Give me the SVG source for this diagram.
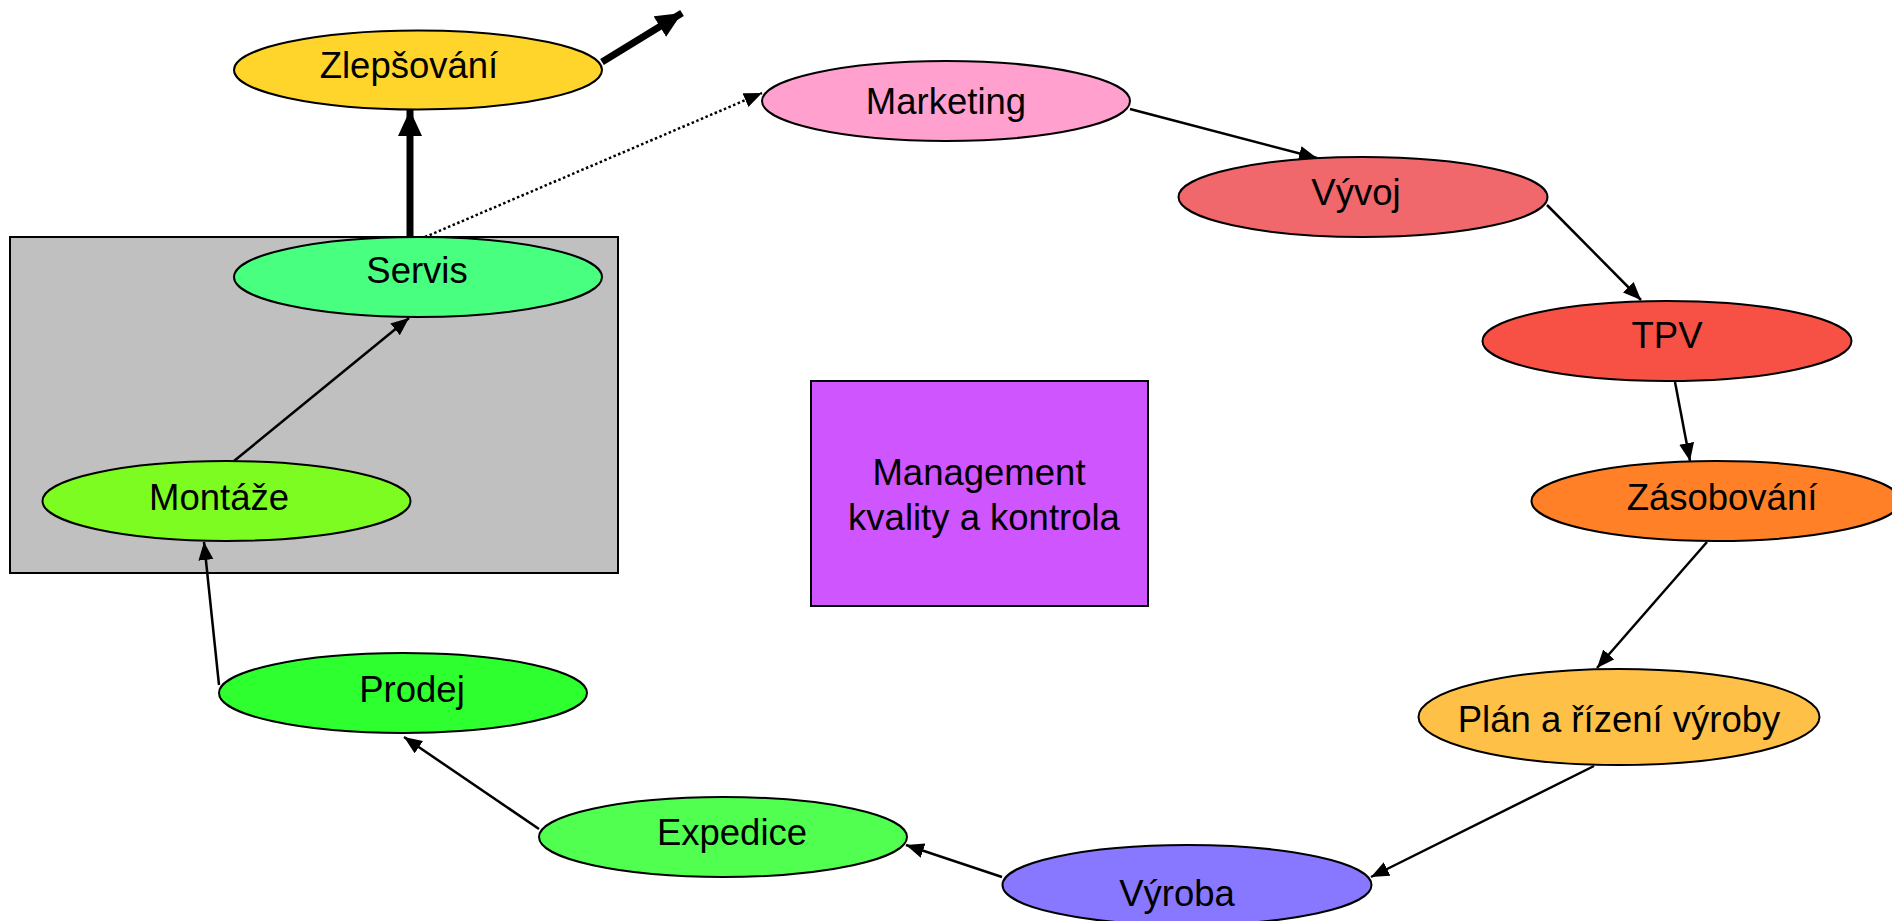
<svg xmlns="http://www.w3.org/2000/svg" width="1892" height="921" viewBox="0 0 1892 921">
<style>
.n{stroke:#000;stroke-width:2}
.t{font-family:"Liberation Sans",Arial,sans-serif;font-size:36.5px;fill:#000;text-anchor:middle}
.c{fill:none;stroke:#000;stroke-width:2.5}
.thick{fill:none;stroke:#000;stroke-width:7}
.dot{fill:none;stroke:#000;stroke-width:2.5;stroke-dasharray:2.5 2.5}
</style>
<defs>
<marker id="a" markerUnits="userSpaceOnUse" markerWidth="20" markerHeight="16" refX="18" refY="7.5" orient="auto"><path d="M0,0 L18,7.5 L0,15 z" fill="#000"/></marker>
<marker id="b" markerUnits="userSpaceOnUse" markerWidth="28" markerHeight="26" refX="26" refY="12" orient="auto"><path d="M0,0 L26,12 L0,24 z" fill="#000"/></marker>
</defs>
<rect id="gray-box" x="10" y="237" width="608" height="336" fill="#C0C0C0" stroke="#000" stroke-width="2"/>
<g id="connectors">
<line class="thick" x1="410" y1="237" x2="410" y2="110" marker-end="url(#b)"/>
<line class="thick" x1="602" y1="62" x2="682" y2="13" marker-end="url(#b)"/>
<line class="dot" x1="425" y1="237" x2="762" y2="93" marker-end="url(#a)"/>
<line class="c" x1="1130" y1="109" x2="1317" y2="158" marker-end="url(#a)"/>
<line class="c" x1="1547" y1="205" x2="1641" y2="300" marker-end="url(#a)"/>
<line class="c" x1="1675" y1="382" x2="1690" y2="461" marker-end="url(#a)"/>
<line class="c" x1="1707" y1="542" x2="1597" y2="668" marker-end="url(#a)"/>
<line class="c" x1="1594" y1="766" x2="1371" y2="877" marker-end="url(#a)"/>
<line class="c" x1="1002" y1="877" x2="906" y2="845" marker-end="url(#a)"/>
<line class="c" x1="539" y1="829" x2="404" y2="737" marker-end="url(#a)"/>
<line class="c" x1="219" y1="685" x2="204" y2="542" marker-end="url(#a)"/>
<line class="c" x1="234" y1="461" x2="409" y2="318" marker-end="url(#a)"/>
</g>
<g id="zlepsovani"><ellipse class="n" cx="418" cy="70" rx="184" ry="39.5" fill="#FFD52B"/><text class="t" x="409" y="78">Zlepšování</text></g>
<g id="servis"><ellipse class="n" cx="418" cy="277" rx="184" ry="40" fill="#48FF80"/><text class="t" x="417" y="283">Servis</text></g>
<g id="marketing"><ellipse class="n" cx="946" cy="101" rx="184" ry="40" fill="#FFA0CF"/><text class="t" x="946" y="114">Marketing</text></g>
<g id="vyvoj"><ellipse class="n" cx="1363" cy="197" rx="184.5" ry="40" fill="#F0676C"/><text class="t" x="1356" y="205">Vývoj</text></g>
<g id="tpv"><ellipse class="n" cx="1667" cy="341" rx="184.5" ry="40" fill="#F75045"/><text class="t" x="1667" y="348">TPV</text></g>
<g id="zasobovani"><ellipse class="n" cx="1716" cy="501" rx="184.5" ry="40" fill="#FF8027"/><text class="t" x="1722" y="510">Zásobování</text></g>
<g id="plan"><ellipse class="n" cx="1619" cy="717" rx="200.5" ry="48" fill="#FFC048"/><text class="t" x="1619" y="732">Plán a řízení výroby</text></g>
<g id="vyroba"><ellipse class="n" cx="1187" cy="885" rx="184.5" ry="40" fill="#8877FF"/><text class="t" x="1177" y="906">Výroba</text></g>
<g id="expedice"><ellipse class="n" cx="723" cy="837" rx="184" ry="40" fill="#50FF50"/><text class="t" x="732" y="845">Expedice</text></g>
<g id="prodej"><ellipse class="n" cx="403" cy="693" rx="184" ry="40" fill="#2EFF2E"/><text class="t" x="412" y="702">Prodej</text></g>
<g id="montaze"><ellipse class="n" cx="226.5" cy="501" rx="184" ry="40" fill="#7CFC20"/><text class="t" x="219" y="510">Montáže</text></g>
<g id="management"><rect x="811" y="381" width="337" height="225" fill="#CF55FF" stroke="#000" stroke-width="2"/><text class="t" x="979" y="485">Management</text><text class="t" x="984" y="530">kvality a kontrola</text></g>
</svg>
